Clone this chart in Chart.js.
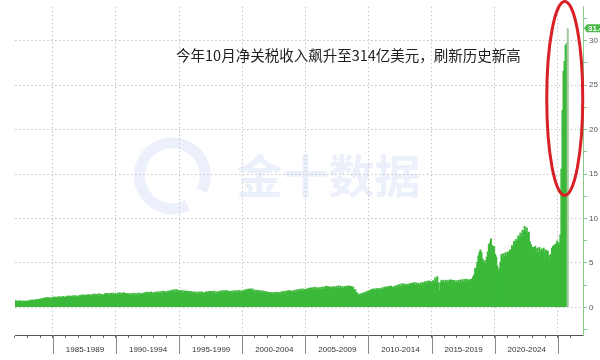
<!DOCTYPE html>
<html>
<head>
<meta charset="utf-8">
<script src="https://cdn.jsdelivr.net/npm/chart.js@4.4.1/dist/chart.umd.min.js"></script>
<style>
  html, body { margin: 0; padding: 0; background: #fff; }
  #wrap { width: 600px; height: 360px; position: relative; }
</style>
</head>
<body>
<div id="wrap"><canvas id="dutyChart"></canvas></div>
<script>
document.addEventListener('DOMContentLoaded', () => {

// monthly net customs duties, bn USD (Jan 1982 - Oct 2025)
const startYear = 1982;
const endYear = 2026;          // axis keeps going to the end of 2026
const periodLabels = ['1985-1989', '1990-1994', '1995-1999', '2000-2004', '2005-2009', '2010-2014', '2015-2019', '2020-2024'];
const yTickValues = [0, 5, 10, 15, 20, 25, 30];
const titleText = '今年10月净关税收入飙升至314亿美元，刷新历史新高';
const watermarkText = '金十数据';

const duties1980s = [
  0.82,0.70,0.78,0.66,0.80,0.68,0.74,0.64,0.79,0.70,0.76,0.72,
  0.80,0.72,0.86,0.76,0.90,0.78,0.84,0.94,0.80,0.96,0.86,0.98,
  0.92,1.06,0.94,1.10,0.98,1.14,1.00,1.18,1.04,1.12,0.98,1.16,
  1.08,1.22,1.06,1.20,1.10,1.26,1.12,1.24,1.08,1.28,1.14,1.22,
  1.16,1.30,1.14,1.34,1.18,1.32,1.20,1.38,1.16,1.36,1.22,1.30,
  1.24,1.40,1.26,1.44,1.22,1.46,1.30,1.42,1.28,1.50,1.32,1.44,
  1.30,1.50,1.34,1.56,1.36,1.52,1.38,1.58,1.32,1.54,1.40,1.48,
  1.40,1.58,1.42,1.62,1.44,1.60,1.46,1.66,1.42,1.64,1.48,1.58
];
const duties1990s = [
  1.46,1.66,1.44,1.70,1.50,1.64,1.48,1.72,1.46,1.62,1.42,1.58,
  1.40,1.60,1.38,1.62,1.44,1.66,1.42,1.60,1.40,1.68,1.46,1.58,
  1.48,1.66,1.50,1.72,1.52,1.76,1.54,1.74,1.50,1.78,1.56,1.70,
  1.56,1.76,1.58,1.82,1.60,1.80,1.62,1.86,1.58,1.88,1.64,1.80,
  1.66,1.88,1.70,1.94,1.72,1.98,1.76,2.04,1.80,2.08,1.78,1.96,
  1.74,1.96,1.70,1.92,1.68,1.90,1.66,1.88,1.64,1.86,1.62,1.82,
  1.60,1.80,1.56,1.78,1.54,1.76,1.52,1.80,1.56,1.78,1.54,1.72,
  1.58,1.78,1.56,1.82,1.60,1.84,1.62,1.86,1.60,1.88,1.62,1.80,
  1.64,1.86,1.66,1.90,1.68,1.92,1.70,1.94,1.68,1.92,1.66,1.86,
  1.66,1.88,1.64,1.90,1.68,1.92,1.70,1.94,1.72,1.96,1.70,1.90
];
const duties2000s = [
  1.76,1.98,1.80,2.04,1.82,2.10,1.86,2.14,1.84,2.12,1.82,2.02,
  1.78,1.98,1.74,1.96,1.72,1.92,1.68,1.90,1.64,1.86,1.60,1.80,
  1.54,1.74,1.50,1.72,1.52,1.70,1.50,1.74,1.54,1.76,1.56,1.74,
  1.62,1.82,1.60,1.86,1.64,1.88,1.66,1.92,1.68,1.94,1.70,1.88,
  1.74,1.96,1.76,2.02,1.78,2.06,1.80,2.10,1.84,2.14,1.86,2.08,
  1.92,2.14,1.94,2.20,1.96,2.24,2.00,2.28,2.02,2.32,2.04,2.24,
  2.04,2.26,2.06,2.32,2.08,2.36,2.10,2.44,2.12,2.40,2.10,2.32,
  2.10,2.34,2.12,2.38,2.14,2.42,2.16,2.46,2.18,2.44,2.16,2.38,
  2.18,2.40,2.16,2.44,2.18,2.46,2.20,2.42,2.12,2.34,2.00,2.04,
  1.70,1.66,1.40,1.54,1.44,1.62,1.52,1.72,1.60,1.80,1.68,1.88
];
const duties2010s = [
  1.80,2.00,1.86,2.10,1.90,2.14,1.94,2.16,1.96,2.18,1.98,2.16,
  2.04,2.26,2.06,2.32,2.08,2.36,2.12,2.40,2.14,2.44,2.16,2.36,
  2.20,2.46,2.24,2.56,2.30,2.64,2.34,2.70,2.38,2.72,2.42,2.64,
  2.42,2.66,2.44,2.72,2.46,2.78,2.50,2.82,2.52,2.80,2.54,2.76,
  2.54,2.80,2.56,2.86,2.60,2.92,2.62,2.98,2.66,3.02,2.70,2.94,
  2.72,3.06,2.76,3.36,2.80,3.50,2.84,1.92,2.82,3.12,2.86,3.06,
  2.80,3.10,2.76,3.06,2.78,3.14,2.82,3.10,2.78,3.08,2.80,3.02,
  2.82,3.08,2.84,3.14,2.86,3.18,2.88,3.20,2.92,3.22,2.94,3.14,
  2.96,3.22,3.00,3.44,3.70,4.40,4.50,5.10,5.80,6.20,6.50,6.20,
  5.50,5.10,5.30,4.90,5.70,6.30,7.10,7.30,7.75,7.00,6.20,6.90
];
const duties2020s = [
  6.00,5.70,4.70,4.10,4.40,5.10,6.00,5.60,6.10,5.70,6.20,5.80,
  6.30,6.10,6.50,6.40,7.00,6.80,7.50,7.10,7.70,7.50,8.10,7.90,
  8.40,8.00,8.70,8.50,9.15,8.60,9.00,8.30,8.50,7.40,7.10,6.50,
  6.80,6.30,6.90,6.20,6.70,6.10,6.80,6.30,6.60,6.40,6.70,6.20,
  6.50,6.30,6.40,5.90,5.40,6.00,6.70,6.90,7.00,7.10,7.20,7.50,
  7.30,7.20,8.20,15.60,22.20,26.60,27.70,29.50,29.70,31.40
];

const duties = [].concat(duties1980s, duties1990s, duties2000s, duties2010s, duties2020s);

// one category per month
const monthLabels = [];
for (let yr = startYear; yr <= endYear; yr++) {
  for (let m = 1; m <= 12; m++) monthLabels.push(yr + '-' + String(m).padStart(2, '0'));
}
const firstBoundary = (1985 - startYear) * 12;   // index of Jan 1985

const barGreen = '#3cb93a';
const barColors = duties.map((v, i) => i === duties.length - 1 ? '#a6c9a2' : barGreen);

const yAllTicks = [];
yTickValues.forEach(v => { yAllTicks.push(v - 2.5); yAllTicks.push(v); });
yAllTicks.push(yTickValues[yTickValues.length - 1] + 2.5);

const gridGrey = '#c6c6c6';
const clear = 'rgba(0,0,0,0)';

function edgeOf(scale, i) {
  return (scale.getPixelForValue(i - 1) + scale.getPixelForValue(i)) / 2;
}

const overlay = {
  id: 'overlay',
  beforeDatasetsDraw(chart) {
    const {ctx, chartArea: a} = chart;
    // faint source watermark
    ctx.save();
    ctx.fillStyle = 'rgba(185,200,235,0.27)';
    ctx.strokeStyle = 'rgba(185,200,235,0.27)';
    ctx.font = 'bold 46px "Noto Sans CJK SC"';
    ctx.textAlign = 'center';
    ctx.textBaseline = 'middle';
    const wy = a.top + a.height * 0.515;
    ctx.fillText(watermarkText, a.left + a.width * 0.552, wy);
    ctx.lineWidth = 11;
    ctx.beginPath();
    ctx.arc(a.left + a.width * 0.277, wy, 33, Math.PI * 0.35, Math.PI * 2.15);
    ctx.stroke();
    ctx.restore();
  },
  afterDraw(chart) {
    const {ctx, chartArea: a, scales: {x, y}} = chart;
    ctx.save();

    // long separators between the 5-year labels
    ctx.strokeStyle = '#8a8a8a';
    ctx.lineWidth = 1;
    for (let i = firstBoundary; i < monthLabels.length; i += 60) {
      const px = Math.round(edgeOf(x, i)) + 0.5;
      ctx.beginPath();
      ctx.moveTo(px, a.bottom);
      ctx.lineTo(px, a.bottom + 19);
      ctx.stroke();
    }

    // title note inside the plot
    ctx.fillStyle = '#1e1e1e';
    ctx.font = '14.5px "Noto Sans CJK SC"';
    ctx.textAlign = 'center';
    ctx.textBaseline = 'middle';
    ctx.fillText(titleText, a.left + a.width * 0.587, a.top + a.height * 0.149);

    // last value tag on the right axis
    const last = duties[duties.length - 1];
    const ty = y.getPixelForValue(last);
    ctx.fillStyle = '#4cb848';
    ctx.beginPath();
    ctx.moveTo(a.right + 1, ty);
    ctx.lineTo(a.right + 4, ty - 4);
    ctx.lineTo(chart.width + 4, ty - 4);
    ctx.lineTo(chart.width + 4, ty + 4);
    ctx.lineTo(a.right + 4, ty + 4);
    ctx.closePath();
    ctx.fill();
    ctx.fillStyle = '#fff';
    ctx.font = 'bold 8px "Liberation Sans"';
    ctx.textAlign = 'left';
    ctx.fillText(last.toFixed(1), a.right + 5, ty + 0.5);

    // red ring round the 2025 spike
    const lx = x.getPixelForValue(duties.length - 1) - 3;
    const top = y.getPixelForValue(34.4);
    const bottom = y.getPixelForValue(12.6);
    ctx.strokeStyle = '#d82027';
    ctx.lineWidth = 3;
    ctx.beginPath();
    ctx.ellipse(lx, (top + bottom) / 2, 18, (bottom - top) / 2, 0, 0, Math.PI * 2);
    ctx.stroke();

    ctx.restore();
  }
};

new Chart(document.getElementById('dutyChart'), {
  type: 'bar',
  data: {
    labels: monthLabels,
    datasets: [{
      data: duties,
      backgroundColor: barColors,
      borderWidth: 0,
      barPercentage: 2,
      categoryPercentage: 1
    }]
  },
  options: {
    responsive: true,
    maintainAspectRatio: false,
    animation: false,
    layout: { padding: { left: 15, top: 0, right: 0, bottom: 0 } },
    plugins: { legend: { display: false }, tooltip: { enabled: false } },
    scales: {
      x: {
        type: 'category',
        offset: true,
        afterFit(scale) { scale.height = 25; },
        grid: {
          offset: true,
          color: c => c.index % 60 === firstBoundary ? gridGrey : clear,
          tickColor: c => c.index % 12 === 0 ? '#666' : clear,
          tickLength: 3
        },
        border: { color: '#555', dash: [1.5, 2.5] },
        ticks: {
          autoSkip: false,
          maxRotation: 0,
          minRotation: 0,
          padding: 7,
          color: '#333',
          font: { family: 'Liberation Sans', size: 8 },
          callback: (v, i) => {
            const k = (i - firstBoundary - 30) / 60;
            return Number.isInteger(k) && k >= 0 && k < periodLabels.length ? periodLabels[k] : '';
          }
        }
      },
      y: {
        position: 'right',
        min: -3.1,
        max: 33.8,
        afterBuildTicks(scale) { scale.ticks = yAllTicks.map(v => ({ value: v })); },
        afterFit(scale) { scale.width = 17; },
        grid: {
          color: c => yTickValues.includes(c.tick.value) ? gridGrey : clear,
          tickColor: '#8cc888',
          tickLength: 4
        },
        border: { color: '#8cc888', dash: [1.5, 2.5] },
        ticks: {
          autoSkip: false,
          padding: 2,
          color: '#555',
          font: { family: 'Liberation Sans', size: 8 },
          callback: v => yTickValues.includes(v) ? String(v) : ''
        }
      }
    }
  },
  plugins: [overlay]
});

});
</script>
</body>
</html>
